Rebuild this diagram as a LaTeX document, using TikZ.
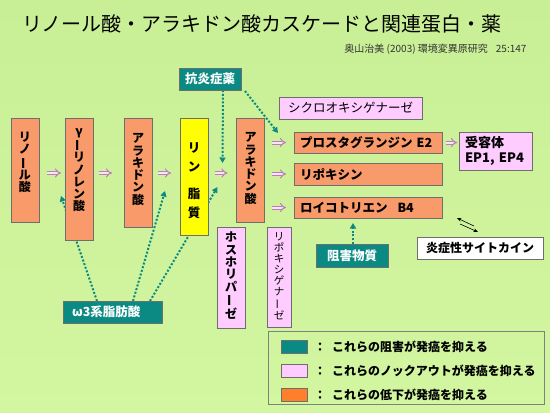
\documentclass[tikz,border=0pt]{standalone}
\usepackage{fontspec}
\setmainfont{Noto Sans CJK JP}
\usepackage{graphicx}
\usetikzlibrary{arrows.meta}
\pgfdeclarelayer{back}
\pgfdeclarelayer{bg}
\pgfsetlayers{back,bg,main}
\definecolor{orng}{HTML}{F89A6A}
\definecolor{orng2}{HTML}{FF7F2A}
\definecolor{tealc}{HTML}{0A8A82}
\definecolor{pnk}{HTML}{FFCCFF}
\definecolor{yel}{HTML}{FFFF00}
\definecolor{brd}{HTML}{6E6E6E}
\definecolor{impc}{HTML}{C07AC0}
\definecolor{impin}{HTML}{F6E6F6}
\definecolor{bgtop}{HTML}{C8EF96}
\definecolor{bgmid}{HTML}{F4FDEC}
\definecolor{bgbot}{HTML}{D3F6A0}
\newcommand\vb{\rotatebox[origin=c]{90}{ー}}
\begin{document}
\begin{tikzpicture}[x=1pt,y=-1pt,
  box/.style={draw=brd, line width=0.8pt, inner sep=0pt, outer sep=0pt},
  ob/.style={box, fill=orng},
  pb/.style={box, fill=pnk},
  tb/.style={box, fill=tealc, text=white, font=\bfseries\fontsize{12.5}{14}\selectfont},
  vtxt/.style={align=center, inner sep=0pt, font=\bfseries\fontsize{12}{12.3}\selectfont},
  htxt/.style={align=left, font=\bfseries\fontsize{12.5}{15}\selectfont},
  imp/.style={draw=impc, double=impin, double distance=2pt, line width=1pt, -{Implies}},
  dots/.style={draw=tealc, line width=2pt, dash pattern=on 2pt off 1.8pt, -{Triangle[length=5.5pt,width=6pt]}},
  harp/.style={draw=black, line width=0.6pt, -{Stealth[length=4.5pt,width=3.5pt]}},
  lgtxt/.style={anchor=west, inner sep=0pt, font=\bfseries\fontsize{12}{14}\selectfont}
]
\useasboundingbox (0,0) rectangle (550,413);
\begin{pgfonlayer}{back}
\shade[top color=bgtop, middle color=bgmid, bottom color=bgbot] (0,0) rectangle (550,413);
\end{pgfonlayer}

% title
\node (title) at (262,24) {\fontsize{20}{24}\selectfont リノール酸・アラキドン酸カスケードと関連蛋白・薬};
\node[anchor=east, text=black!80] (sub) at (530,49) {\fontsize{10}{12}\selectfont 奥山治美 (2003) 環境変異原研究\hspace{8pt}25:147};

% vertical boxes
\node[ob, minimum width=28pt, minimum height=104pt] (linol) at (25,170) {};
\node[vtxt] (linolT) at (25,162.5) {リ\\ノ\\\vb\\ル\\酸};
\node[ob, minimum width=28pt, minimum height=122pt] (gamma) at (79,179) {};
\node[vtxt] (gammaT) at (79,170.5) {γ\\\vb\\リ\\ノ\\レ\\ン\\酸};
\node[ob, minimum width=28pt, minimum height=109pt] (arach1) at (138,172.5) {};
\node[vtxt] (arach1T) at (138,169.5) {ア\\ラ\\キ\\ド\\ン\\酸};
\node[box, fill=yel, minimum width=28pt, minimum height=117pt] (lipid) at (194,176.5) {};
\node[align=center, inner sep=0pt, font=\bfseries\fontsize{12.5}{19}\selectfont] (lipidT) at (194,181) {リ\\ン\\[8pt]脂\\質};
\node[ob, minimum width=28pt, minimum height=104pt] (arach2) at (250.5,170) {};
\node[vtxt] (arach2T) at (250.5,168.5) {ア\\ラ\\キ\\ド\\ン\\酸};

\node[pb, minimum width=28pt, minimum height=101pt] (phos) at (231,277.5) {};
\node[vtxt] (phosT) at (231,275.5) {ホ\\ス\\ホ\\リ\\パ\\\vb\\ゼ};
\node[pb, minimum width=24pt, minimum height=100pt] (lipox) at (279,277) {};
\node[align=center, inner sep=0pt, font=\fontsize{10.5}{11}\selectfont] (lipoxT) at (279,276) {リ\\ポ\\キ\\シ\\ゲ\\ナ\\\vb\\ゼ};

% horizontal boxes
\node[tb, minimum width=62pt, minimum height=22pt] (drug) at (210,79) {抗炎症薬};
\node[pb, minimum width=143pt, minimum height=22pt, font=\fontsize{12.5}{14}\selectfont] (cox) at (350.5,108) {シクロオキシゲナーゼ};
\node[ob, htxt, minimum height=21pt, text width=136pt, inner xsep=6pt] (pge) at (368,142.5) {プロスタグランジン E2};
\node[ob, htxt, minimum height=22pt, text width=136pt, inner xsep=6pt] (lpx) at (368,174) {リポキシン};
\node[ob, htxt, minimum height=21pt, text width=136pt, inner xsep=6pt] (ltb) at (368,207.5) {ロイコトリエン\hspace{10pt}B4};
\node[pb, minimum width=73pt, minimum height=38pt, text width=61pt, inner xsep=6pt, align=left, font=\bfseries\fontsize{13}{15}\selectfont] (rec) at (495.5,151) {受容体\\EP1, EP4};
\node[box, fill=white, minimum width=126pt, minimum height=22pt, font=\bfseries\fontsize{12}{14}\selectfont] (cyt) at (480,248) {炎症性サイトカイン};
\node[tb, minimum width=72pt, minimum height=23pt] (inh) at (352,255.5) {阻害物質};
\node[tb, minimum width=99pt, minimum height=22pt, text width=81pt, align=left, inner xsep=9pt] (omega) at (112.5,312) {ω3系脂肪酸};

% implies arrows
\draw[imp] ([xshift=8pt]linol.east |- 0,173) -- ([xshift=-4pt]gamma.west |- 0,173);
\draw[imp] ([xshift=6pt]gamma.east |- 0,173) -- ([xshift=-12pt]arach1.west |- 0,173);
\draw[imp] ([xshift=6pt]arach1.east |- 0,173) -- ([xshift=-9pt]lipid.west |- 0,173);
\draw[imp] ([xshift=7pt]lipid.east |- 0,173) -- ([xshift=-9pt]arach2.west |- 0,173);
\draw[imp] ([xshift=7.5pt]arach2.east |- pge.west) -- ([xshift=-8pt]pge.west);
\draw[imp] ([xshift=7.5pt]arach2.east |- lpx.west) -- ([xshift=-8pt]lpx.west);
\draw[imp] ([xshift=7.5pt]arach2.east |- ltb.west) -- ([xshift=-8pt]ltb.west);
\draw[imp] ([xshift=4pt]pge.east) -- ([xshift=-2pt]rec.west |- pge.east);

% dotted teal arrows (behind boxes)
\begin{pgfonlayer}{bg}
\draw[dots] ([xshift=-15.5pt]omega.north) -- ([shift={(-4,-44)}]gamma.south west);
\draw[dots] ([xshift=20.5pt]omega.north) -- ([shift={(-15,14.5)}]lipid.west);
\draw[dots] ([xshift=37.5pt]omega.north) -- ([shift={(-19,17)}]arach2.west);
\draw[dots] ([xshift=13pt]drug.south) -- ([shift={(-14,-7)}]arach2.west);
\draw[dots] ([shift={(4,1)}]drug.south east) -- ([shift={(-16,-9.5)}]pge.west);
\draw[dots] ([xshift=1pt]inh.north) -- ([shift={(-15,5)}]ltb.south);
\end{pgfonlayer}

% harpoon pair
\draw[harp] ([shift={(57,-11)}]cyt.north west) -- ([shift={(40,-19)}]cyt.north west);
\draw[harp] ([shift={(43,-13)}]cyt.north west) -- ([shift={(61,-5)}]cyt.north west);

% legend
\node[draw=black!50, line width=0.8pt, minimum width=276pt, minimum height=73pt, inner sep=0pt] (legend) at (406,367.5) {};
\node[box, fill=tealc, minimum width=26pt, minimum height=13pt] (sw1) at (294,346.5) {};
\node[box, fill=pnk, minimum width=26pt, minimum height=13pt] (sw2) at (294,370.5) {};
\node[box, fill=orng2, minimum width=26pt, minimum height=13pt] (sw3) at (294,394.5) {};
\node[lgtxt] (lg1) at (314,347) {：\hspace{6pt}これらの阻害が発癌を抑える};
\node[lgtxt] (lg2) at (314,371) {：\hspace{6pt}これらのノックアウトが発癌を抑える};
\node[lgtxt] (lg3) at (314,395) {：\hspace{6pt}これらの低下が発癌を抑える};
\end{tikzpicture}
\end{document}
